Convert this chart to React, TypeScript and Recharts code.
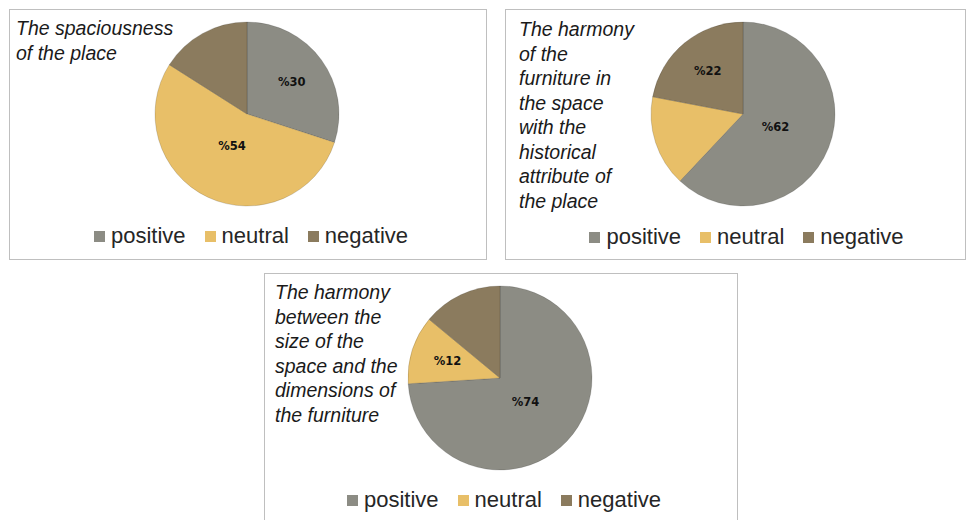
import React from 'react';
import { PieChart, Pie, Cell, Legend } from 'recharts';

const categories = ['positive', 'neutral', 'negative'];
const COLORS = ['#8C8C84', '#E8BF68', '#8B7B5E'];

const spaciousnessValues = [30, 54, 16];
const furnitureHistoryValues = [62, 16, 22];
const sizeDimensionValues = [74, 12, 14];

// which slices carry a percentage label in the source
const spaciousnessLabeled = [true, true, false];
const furnitureHistoryLabeled = [true, false, true];
const sizeDimensionLabeled = [true, true, false];

const spaciousnessTitle = ['The spaciousness', 'of the place'];
const furnitureHistoryTitle = [
  'The harmony',
  'of the',
  'furniture in',
  'the space',
  'with the',
  'historical',
  'attribute of',
  'the place',
];
const sizeDimensionTitle = [
  'The harmony',
  'between the',
  'size of the',
  'space and the',
  'dimensions of',
  'the furniture',
];

const RAD = Math.PI / 180;

const makeLabel = (labeled: boolean[]) => (props: any) => {
  const { cx, cy, midAngle, outerRadius, percent, value, index } = props;
  if (!labeled[index]) return null;
  const r = outerRadius * (percent > 0.5 ? 0.38 : 0.6);
  const x = cx + r * Math.cos(-midAngle * RAD);
  const y = cy + r * Math.sin(-midAngle * RAD);
  return (
    <text
      x={x}
      y={y}
      textAnchor="middle"
      dominantBaseline="central"
      fill="#111"
      fontSize={11.5}
      fontWeight="bold"
      fontFamily="DejaVu Sans, sans-serif"
    >
      {`%${value}`}
    </text>
  );
};

// legend in the category order, not the order recharts hands back
const LegendRow = ({ payload, shift }: any) => {
  const items = categories.map((name, i) => {
    const found = (payload || []).find((p: any) => p.value === name);
    return { name, color: found ? found.color : COLORS[i] };
  });
  return (
    <div
      style={{
        display: 'flex',
        justifyContent: 'center',
        alignItems: 'center',
        transform: `translateX(${shift}px)`,
        fontFamily: '"Liberation Sans", Arial, sans-serif',
        fontSize: 22,
        color: '#262626',
      }}
    >
      {items.map((it, i) => (
        <span key={it.name} style={{ display: 'flex', alignItems: 'center', marginLeft: i === 0 ? 0 : 19 }}>
          <span style={{ width: 11, height: 11, background: it.color, display: 'inline-block', marginRight: 6 }} />
          {it.name}
        </span>
      ))}
    </div>
  );
};

type PanelProps = {
  left: number;
  top: number;
  width: number;
  height: number;
  cx: number;
  cy: number;
  values: number[];
  labeled: boolean[];
  title: string[];
  titleX: number;
  titleY: number;
  legendTop: number;
  legendShift: number;
};

const Panel = (p: PanelProps) => {
  const data = categories.map((name, i) => ({ name, value: p.values[i] }));
  return (
    <div style={{ position: 'absolute', left: p.left, top: p.top, width: p.width, height: p.height }}>
      <div
        style={{
          position: 'absolute',
          inset: 0,
          border: '1px solid #BFBFBF',
          boxSizing: 'border-box',
          background: '#fff',
        }}
      />
      <div style={{ position: 'absolute', left: 0, top: 0 }}>
        <PieChart width={p.width} height={p.height} margin={{ top: 0, right: 0, bottom: 0, left: 0 }}>
          <Pie
            data={data}
            dataKey="value"
            nameKey="name"
            cx={p.cx}
            cy={p.cy}
            outerRadius={92}
            startAngle={90}
            endAngle={-270}
            stroke="rgba(0,0,0,0.18)"
            strokeWidth={0.8}
            label={makeLabel(p.labeled)}
            labelLine={false}
            isAnimationActive={false}
          >
            {data.map((d, i) => (
              <Cell key={d.name} fill={COLORS[i]} />
            ))}
          </Pie>
          <Legend
            content={(lp: any) => <LegendRow payload={lp.payload} shift={p.legendShift} />}
            wrapperStyle={{ position: 'absolute', left: 0, top: p.legendTop, width: p.width }}
          />
        </PieChart>
      </div>
      <div
        style={{
          position: 'absolute',
          left: p.titleX,
          top: p.titleY,
          fontFamily: '"Liberation Sans", Arial, sans-serif',
          fontStyle: 'italic',
          fontSize: 19.5,
          lineHeight: '24.5px',
          color: '#1a1a1a',
          whiteSpace: 'nowrap',
        }}
      >
        {p.title.map((t) => (
          <div key={t}>{t}</div>
        ))}
      </div>
    </div>
  );
};

export default function App() {
  return (
    <div style={{ position: 'absolute', left: 0, top: 0, width: 969, height: 520, background: '#fff', overflow: 'hidden' }}>
      <Panel
        left={9}
        top={9}
        width={478}
        height={251}
        cx={238}
        cy={105}
        values={spaciousnessValues}
        labeled={spaciousnessLabeled}
        title={spaciousnessTitle}
        titleX={7}
        titleY={7}
        legendTop={214}
        legendShift={3}
      />
      <Panel
        left={505}
        top={9}
        width={461}
        height={251}
        cx={238}
        cy={105}
        values={furnitureHistoryValues}
        labeled={furnitureHistoryLabeled}
        title={furnitureHistoryTitle}
        titleX={14}
        titleY={8}
        legendTop={215}
        legendShift={11}
      />
      <Panel
        left={264}
        top={273}
        width={474}
        height={260}
        cx={236}
        cy={105}
        values={sizeDimensionValues}
        labeled={sizeDimensionLabeled}
        title={sizeDimensionTitle}
        titleX={11}
        titleY={7}
        legendTop={214}
        legendShift={3}
      />
    </div>
  );
}
